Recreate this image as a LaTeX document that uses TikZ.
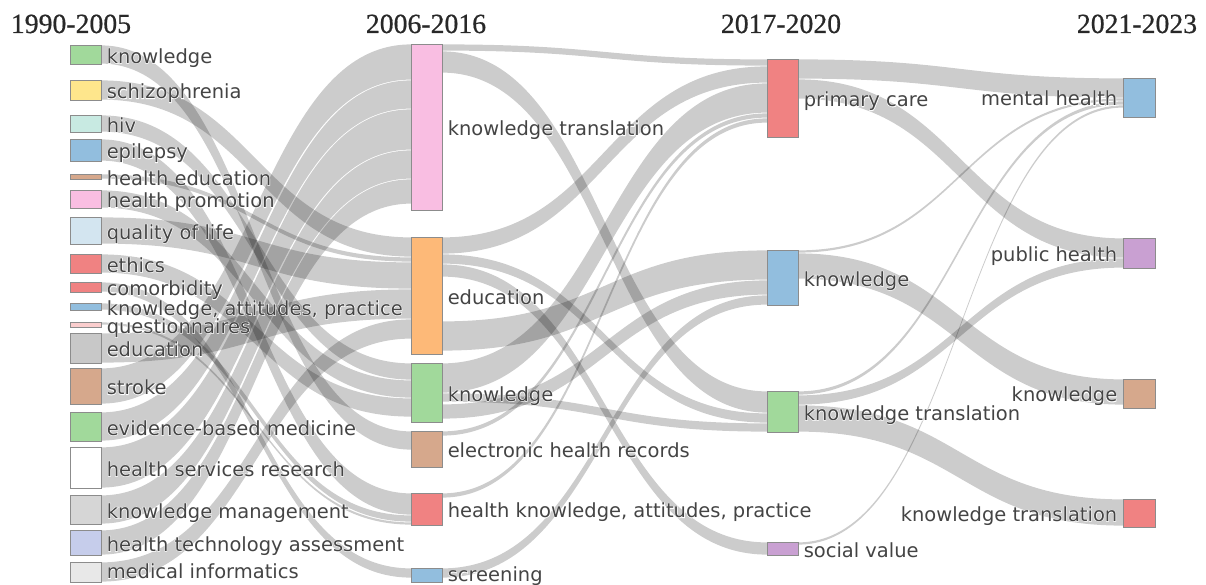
\documentclass[tikz,border=0pt]{standalone}
\usepackage{fontspec}
\newfontfamily\labfont{DejaVu Sans}
\newfontfamily\halofont[FakeBold=5]{DejaVu Sans}
\newfontfamily\headfont[FakeBold=0.6]{Liberation Serif}
\definecolor{cgreen}{RGB}{161,217,155}
\definecolor{cyellow}{RGB}{254,230,140}
\definecolor{cteal}{RGB}{200,234,226}
\definecolor{cblue}{RGB}{146,190,222}
\definecolor{ctan}{RGB}{214,168,140}
\definecolor{cpink}{RGB}{249,190,226}
\definecolor{clblue}{RGB}{211,229,240}
\definecolor{cred}{RGB}{240,130,130}
\definecolor{clpink}{RGB}{250,205,205}
\definecolor{cgrey}{RGB}{200,200,200}
\definecolor{clgrey}{RGB}{214,214,214}
\definecolor{clav}{RGB}{198,205,235}
\definecolor{cvlgrey}{RGB}{232,232,232}
\definecolor{corange}{RGB}{253,185,120}
\definecolor{cpurple}{RGB}{201,160,210}
\definecolor{labgrey}{RGB}{68,68,68}
\definecolor{headgrey}{RGB}{40,40,40}
\tikzset{
  flow/.style={fill=black, fill opacity=0.2},
  box/.style={draw=black!45, line width=0.5pt, inner sep=0pt, outer sep=0pt, rectangle},
  lab/.style={inner sep=0pt, text=labgrey, font=\fontsize{14.6}{16}\selectfont},
  head/.style={inner sep=0pt, text=headgrey, font=\headfont\fontsize{20.8}{22}\selectfont, anchor=base},
}
\newcommand{\halo}[1]{\rlap{\halofont\color{white}#1}\labfont #1}
% band: x0, a, b, x1, c, d
\newcommand{\band}[6]{%
  \pgfmathsetmacro\xm{(#1+#4)/2}%
  \pgfmathsetmacro\ya{#2+0.4}\pgfmathsetmacro\yb{#3-0.4}%
  \pgfmathsetmacro\yc{#5+0.4}\pgfmathsetmacro\yd{#6-0.4}%
  \fill[flow] (#1,\ya) .. controls (\xm,\ya) and (\xm,\yc) .. (#4,\yc) -- (#4,\yd) .. controls (\xm,\yd) and (\xm,\yb) .. (#1,\yb) -- cycle;}
\newcommand{\bandA}[4]{\band{101}{#1}{#2}{411}{#3}{#4}}
\newcommand{\bandB}[4]{\band{442}{#1}{#2}{767}{#3}{#4}}
\newcommand{\bandC}[4]{\band{798}{#1}{#2}{1123}{#3}{#4}}
% node: name, x-left, width, top, bottom, colour
\newcommand{\nd}[6]{%
  \pgfmathsetmacro\nw{#3*0.75}\pgfmathsetmacro\nh{(#5-#4)*0.75}%
  \node[box, fill=#6, minimum width=\nw pt, minimum height=\nh pt, anchor=north west] (#1) at (#2,#4) {};}
\begin{document}
\begin{tikzpicture}[x=0.75pt,y=-0.75pt]
\useasboundingbox (0,0) rectangle (1206,585);
% ---- flows period 1 -> 2
\bandA{45}{64}{431}{450}   % knowledge -> electronic health records
\bandA{80}{100}{237}{257}  % schizophrenia -> education
\bandA{115}{132}{363}{380} % hiv -> knowledge
\bandA{139}{161}{493}{515} % epilepsy -> health knowledge, attitudes, practice
\bandA{174}{179}{257}{262} % health education -> education
\bandA{190}{208}{380}{398} % health promotion -> knowledge
\bandA{217}{244}{262}{289} % quality of life -> education
\bandA{254}{273}{398}{417} % ethics -> knowledge
\bandA{282}{292}{568}{578} % comorbidity -> screening
\bandA{303}{310}{515}{522} % kap -> hkap
\bandA{322}{325}{522}{525} % questionnaires -> hkap
\bandA{333}{363}{289}{319} % education -> education
\bandA{368}{404}{44}{80}   % stroke -> knowledge translation
\bandA{412}{441}{80}{109}  % ebm -> knowledge translation
\bandA{447}{488}{109}{150} % hsr -> knowledge translation
\bandA{495}{524}{150}{179} % km -> knowledge translation
\bandA{530}{555}{179}{204} % hta -> knowledge translation
\bandA{562}{582}{319}{339} % medical informatics -> education
% ---- flows period 2 -> 3
\bandB{44}{51}{59}{66}
\bandB{51}{73}{391}{413}
\bandB{237}{254}{66}{83}
\bandB{254}{264}{413}{423}
\bandB{264}{277}{542}{555}
\bandB{321}{351}{250}{280}
\bandB{363}{393}{83}{113}
\bandB{393}{402}{423}{432}
\bandB{404}{419}{280}{295}
\bandB{431}{436}{113}{118}
\bandB{493}{498}{118}{123}
\bandB{568}{578}{295}{305}
% ---- flows period 3 -> 4
\bandC{59}{79}{78}{98}
\bandC{79}{99}{238}{258}
\bandC{250}{253}{98}{101}
\bandC{253}{279}{379}{405}
\bandC{391}{395}{101}{105}
\bandC{395}{405}{258}{268}
\bandC{405}{432}{499}{526}
\bandC{542}{545}{105}{108}
% ---- nodes period 1
\nd{pa}{70}{31}{45}{64}{cgreen}
\nd{pb}{70}{31}{80}{100}{cyellow}
\nd{pc}{70}{31}{115}{132}{cteal}
\nd{pd}{70}{31}{139}{161}{cblue}
\nd{pe}{70}{31}{174}{179}{ctan}
\nd{pf}{70}{31}{190}{208}{cpink}
\nd{pg}{70}{31}{217}{244}{clblue}
\nd{ph}{70}{31}{254}{273}{cred}
\nd{pi}{70}{31}{282}{292}{cred}
\nd{pj}{70}{31}{303}{310}{cblue}
\nd{pk}{70}{31}{322}{327}{clpink}
\nd{pl}{70}{31}{333}{363}{cgrey}
\nd{pm}{70}{31}{368}{404}{ctan}
\nd{pn}{70}{31}{412}{441}{cgreen}
\nd{po}{70}{31}{447}{488}{white}
\nd{pp}{70}{31}{495}{524}{clgrey}
\nd{pq}{70}{31}{530}{555}{clav}
\nd{pr}{70}{31}{562}{582}{cvlgrey}
% ---- nodes period 2
\nd{qa}{411}{31}{44}{210}{cpink}
\nd{qb}{411}{31}{237}{354}{corange}
\nd{qc}{411}{31}{363}{422}{cgreen}
\nd{qd}{411}{31}{431}{467}{ctan}
\nd{qe}{411}{31}{493}{525}{cred}
\nd{qf}{411}{31}{568}{582}{cblue}
% ---- nodes period 3
\nd{ra}{767}{31}{59}{137}{cred}
\nd{rb}{767}{31}{250}{305}{cblue}
\nd{rc}{767}{31}{391}{432}{cgreen}
\nd{rd}{767}{31}{542}{555}{cpurple}
% ---- nodes period 4
\nd{sa}{1123}{32}{78}{117}{cblue}
\nd{sb}{1123}{32}{238}{268}{cpurple}
\nd{sc}{1123}{32}{379}{408}{ctan}
\nd{sd}{1123}{32}{499}{527}{cred}
% ---- labels
\foreach \n/\t in {pa/knowledge, pb/schizophrenia, pc/hiv, pd/epilepsy, pe/health education,
  pf/health promotion, pg/quality of life, ph/ethics, pi/comorbidity,
  pj/{knowledge, attitudes, practice}, pk/questionnaires, pl/education, pm/stroke,
  pn/evidence-based medicine, po/health services research, pp/knowledge management,
  pq/health technology assessment,
  qa/knowledge translation, qb/education, qc/knowledge, qd/electronic health records,
  qe/{health knowledge, attitudes, practice},
  ra/primary care, rb/knowledge, rc/knowledge translation, rd/social value}
  \node[lab, anchor=base west] at ([shift={(5.5,8.6)}]\n.east) {\halo{\t}};
\foreach \n/\t in {pr/medical informatics, qf/screening}
  \node[lab, anchor=base west] at ([shift={(5.5,6.4)}]\n.east) {\halo{\t}};
\foreach \n/\t in {sa/mental health, sb/public health, sc/knowledge, sd/knowledge translation}
  \node[lab, anchor=base east] at ([shift={(-5.5,8.2)}]\n.west) {\halo{\t}};
% ---- headers
\node[head] (h1) at (71,33) {1990-2005};
\node[head] (h2) at (426,33) {2006-2016};
\node[head] (h3) at (781,33) {2017-2020};
\node[head] (h4) at (1137,33) {2021-2023};
\end{tikzpicture}
\end{document}
